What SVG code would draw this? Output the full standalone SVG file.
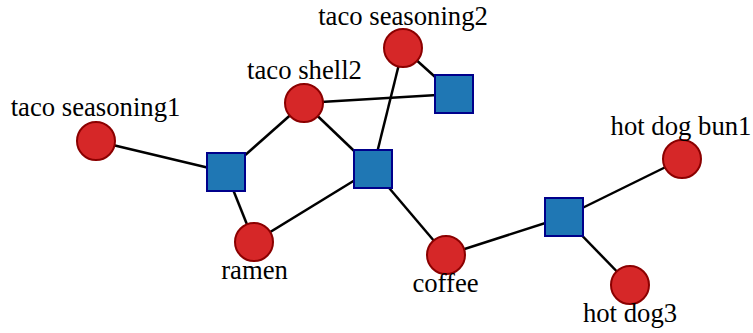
<svg xmlns="http://www.w3.org/2000/svg" width="753" height="333" viewBox="0 0 753 333">
<style>
.e{stroke:#000;stroke-width:2.5;fill:none}
.c{fill:#d62728;stroke:#8b0000;stroke-width:2}
.s{fill:#1f77b4;stroke:#00008b;stroke-width:2}
text{font-family:"Liberation Serif","Times New Roman",serif;font-size:26.7px;fill:#000;text-anchor:middle}
</style>
<rect width="753" height="333" fill="#fff"/>
<g id="edges">
<line class="e" x1="96" y1="141" x2="226" y2="172"/>
<line class="e" x1="226" y1="172" x2="304" y2="103"/>
<line class="e" x1="226" y1="172" x2="254" y2="242"/>
<line class="e" x1="304" y1="103" x2="373" y2="169"/>
<line class="e" x1="304" y1="103" x2="454" y2="94"/>
<line class="e" x1="403" y1="48" x2="454" y2="94"/>
<line class="e" x1="403" y1="48" x2="373" y2="169"/>
<line class="e" x1="254" y1="242" x2="373" y2="169"/>
<line class="e" x1="373" y1="169" x2="446" y2="255"/>
<line class="e" x1="446" y1="255" x2="564" y2="217"/>
<line class="e" x1="564" y1="217" x2="682" y2="159"/>
<line class="e" x1="564" y1="217" x2="630" y2="285"/>
</g>
<g id="sq1"><rect class="s" x="207" y="153" width="38" height="38"/></g>
<g id="sq2"><rect class="s" x="354" y="150" width="38" height="38"/></g>
<g id="sq3"><rect class="s" x="435" y="75" width="38" height="38"/></g>
<g id="sq4"><rect class="s" x="545" y="198" width="38" height="38"/></g>
<g id="taco-seasoning1"><circle class="c" cx="96" cy="141" r="19"/><text x="95.5" y="116">taco seasoning1</text></g>
<g id="taco-shell2"><circle class="c" cx="304" cy="103" r="19"/><text x="304.5" y="79">taco shell2</text></g>
<g id="taco-seasoning2"><circle class="c" cx="403" cy="48" r="19"/><text x="403" y="25">taco seasoning2</text></g>
<g id="hot-dog-bun1"><circle class="c" cx="682" cy="159" r="19"/><text x="681" y="135">hot dog bun1</text></g>
<g id="ramen"><circle class="c" cx="254" cy="242" r="19"/><text x="254.5" y="279">ramen</text></g>
<g id="coffee"><circle class="c" cx="446" cy="255" r="19"/><text x="445.5" y="292">coffee</text></g>
<g id="hot-dog3"><circle class="c" cx="630" cy="285" r="19"/><text x="630" y="322">hot dog3</text></g>
</svg>
